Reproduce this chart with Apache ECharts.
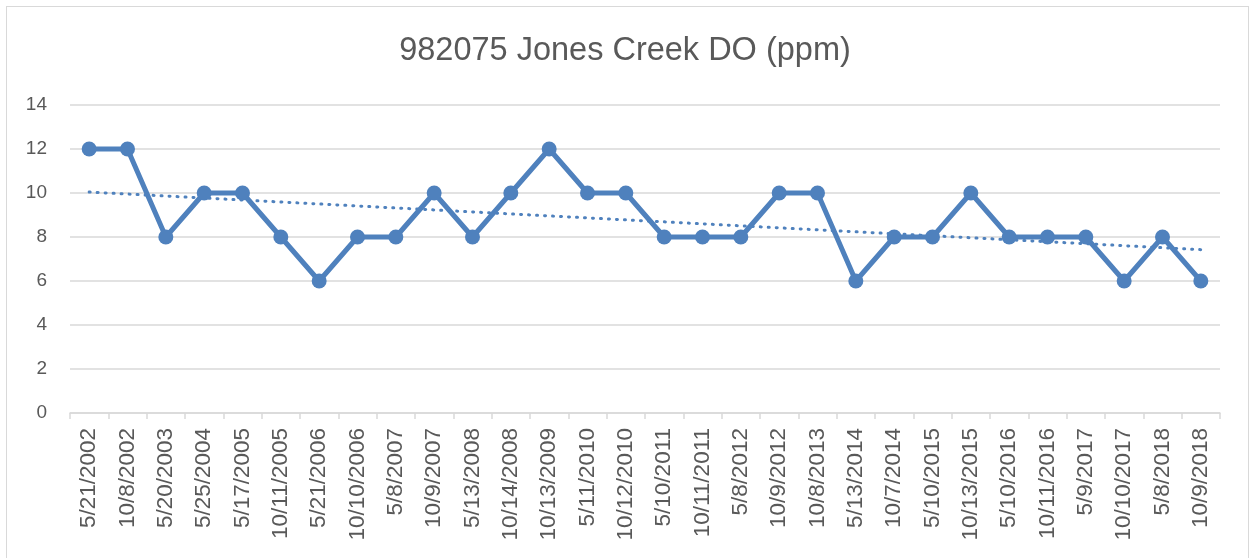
<!DOCTYPE html>
<html><head><meta charset="utf-8">
<script src="https://cdn.jsdelivr.net/npm/echarts@6/dist/echarts.min.js"></script>
<style>html,body{margin:0;padding:0;background:#fff;overflow:hidden}#frame{position:absolute;left:6px;top:6px;width:1243px;height:560px;border:1px solid #d9d9d9;box-sizing:border-box}#c{position:absolute;left:0;top:0;width:1250px;height:558px}</style>
</head><body><div id="frame"></div><div id="c"></div>
<script>
const categories = ['5/21/2002','10/8/2002','5/20/2003','5/25/2004','5/17/2005','10/11/2005','5/21/2006','10/10/2006','5/8/2007','10/9/2007','5/13/2008','10/14/2008','10/13/2009','5/11/2010','10/12/2010','5/10/2011','10/11/2011','5/8/2012','10/9/2012','10/8/2013','5/13/2014','10/7/2014','5/10/2015','10/13/2015','5/10/2016','10/11/2016','5/9/2017','10/10/2017','5/8/2018','10/9/2018'];
const doValues = [12,12,8,10,10,8,6,8,8,10,8,10,12,10,10,8,8,8,10,10,6,8,8,10,8,8,8,6,8,6];
const titleText = '982075 Jones Creek DO (ppm)';

// Linear trendline (least squares) computed from the data, as in the original
const n = doValues.length;
const mx = (n - 1) / 2;
const my = doValues.reduce((a, b) => a + b, 0) / n;
let sxy = 0, sxx = 0;
doValues.forEach((v, i) => { sxy += (i - mx) * (v - my); sxx += (i - mx) * (i - mx); });
const slope = sxy / sxx;
const trend = doValues.map((v, i) => my + slope * (i - mx));

const font = 'Liberation Sans, Arial, sans-serif';
const chart = echarts.init(document.getElementById('c'), null, {renderer: 'canvas'});
chart.setOption({
  animation: false,
  title: {text: titleText, left: 'center', top: 30, textStyle: {fontFamily: font, fontSize: 32.5, fontWeight: 'normal', color: '#595959'}},
  grid: {left: 70, right: 30, top: 105, bottom: 145, containLabel: false},
  xAxis: {
    type: 'category', data: categories, boundaryGap: true,
    axisLine: {lineStyle: {color: '#d9d9d9', width: 1.5}},
    axisTick: {show: true, length: 6, lineStyle: {color: '#d9d9d9', width: 1.5}},
    axisLabel: {rotate: 90, interval: 0, margin: 15, fontFamily: font, fontSize: 22.5, color: '#595959'}
  },
  yAxis: {
    type: 'value', min: 0, max: 14, interval: 2,
    axisLine: {show: false}, axisTick: {show: false},
    splitLine: {lineStyle: {color: '#d9d9d9', width: 1.5}},
    axisLabel: {margin: 23, fontFamily: font, fontSize: 19, color: '#595959'}
  },
  series: [
    {type: 'line', data: trend, symbol: 'none', z: 1,
     lineStyle: {color: '#4F81BD', width: 3, type: [1, 7], cap: 'round'}},
    {type: 'line', data: doValues, symbol: 'circle', symbolSize: 15, z: 2,
     lineStyle: {color: '#4F81BD', width: 5}, itemStyle: {color: '#4F81BD'}}
  ]
});
</script></body></html>
